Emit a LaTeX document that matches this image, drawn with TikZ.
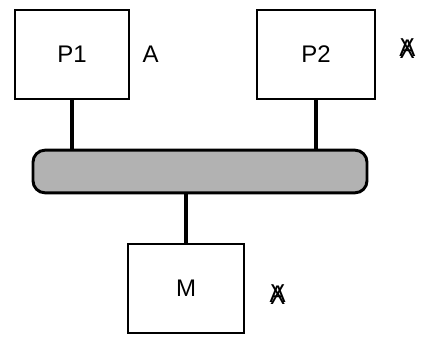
\documentclass[tikz,border=0pt]{standalone}
\usepackage{fontspec}
\setmainfont{Liberation Sans}
\usepackage{tikz}
\usetikzlibrary{positioning}

\newcommand{\xA}{\ooalign{A\cr\hidewidth\raisebox{-1pt}{\scalebox{0.95}[1.2]{X}}\hidewidth\cr}}

\tikzset{
  unit/.style={draw, line width=1.4pt, minimum height=66.75pt, inner sep=0pt},
  bus/.style={draw, line width=2.2pt, rounded corners=9pt, fill=gray!60,
              minimum width=250.5pt, minimum height=32pt},
  link/.style={line width=2.6pt}
}

\begin{document}
\begin{tikzpicture}[x=0.75pt,y=-0.75pt,font=\fontsize{18}{21}\selectfont]
\useasboundingbox (0,0) rectangle (425,336);

\draw (72,54.5)   node (p1) [unit, minimum width=85.5pt]
      [label={[label distance=6pt]right:A}] {P1};
\draw (316,54.5)  node (p2) [unit, minimum width=88.5pt]
      [label={[label distance=14pt,yshift=4pt]right:\xA}] {P2};

\draw (200,171.5) node (bus) [bus] {};

\draw (186,288.5) node (m) [unit, minimum width=87pt]
      [label={[label distance=15pt,yshift=-5pt]right:\xA}] {M};

\draw[link] (p1.south) -- (p1.south |- bus.north);
\draw[link] (p2.south) -- (p2.south |- bus.north);
\draw[link] (bus.south -| m.north) -- (m.north);
\end{tikzpicture}
\end{document}
